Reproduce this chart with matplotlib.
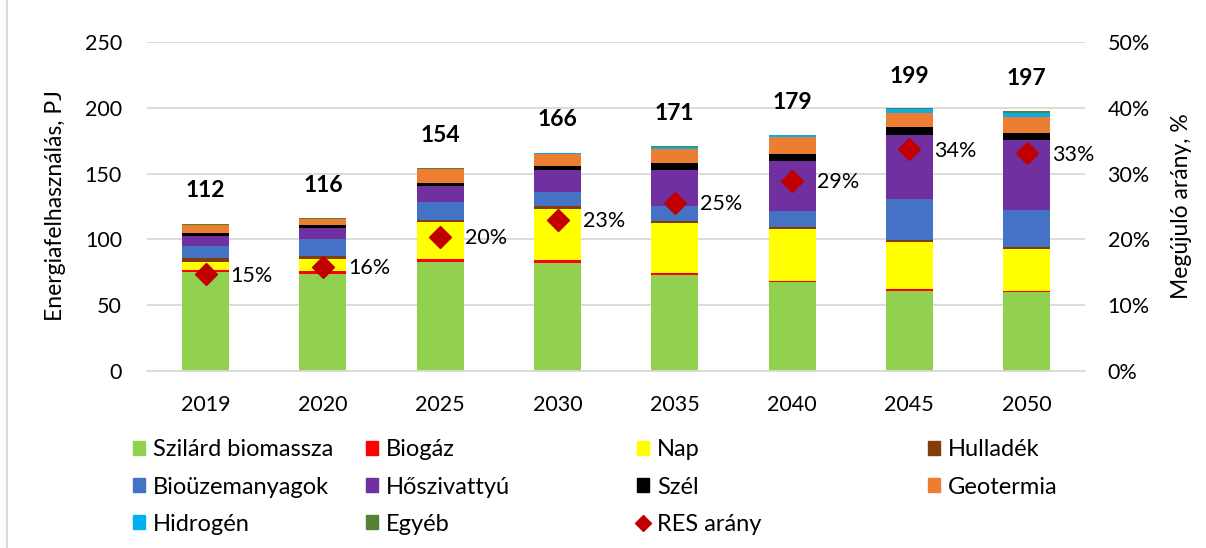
import matplotlib.pyplot as plt
from matplotlib.lines import Line2D
from matplotlib.patches import Patch
import numpy as np

plt.rcParams['font.family'] = ['Lato', 'DejaVu Sans']

years = ['2019', '2020', '2025', '2030', '2035', '2040', '2045', '2050']

szilard = [75.0, 73.7, 83.0, 82.0, 73.2, 67.6, 61.0, 59.8]
biogaz = [1.5, 2.3, 1.9, 2.0, 1.3, 1.0, 1.1, 1.2]
nap = [6.0, 9.0, 28.0, 39.2, 38.0, 39.0, 35.9, 31.9]
hulladek = [3.0, 2.5, 2.2, 2.0, 1.5, 1.7, 1.5, 1.3]
biouzem = [9.5, 12.7, 13.2, 10.8, 11.2, 12.2, 31.2, 28.1]
hoszivattyu = [7.3, 8.4, 12.4, 16.5, 27.3, 38.2, 48.9, 53.2]
szel = [2.6, 2.5, 2.3, 3.0, 5.6, 5.3, 5.6, 5.6]
geotermia = [6.1, 4.3, 10.4, 9.2, 10.4, 12.5, 10.6, 12.2]
hidrogen = [0.0, 0.0, 0.0, 1.0, 2.0, 1.5, 3.0, 3.0]
egyeb = [0.5, 0.8, 0.8, 0.3, 0.3, 0.6, 1.0, 1.0]

totals = [112, 116, 154, 166, 171, 179, 199, 197]
res_share = [14.7, 15.8, 20.4, 23.0, 25.6, 28.9, 33.7, 33.1]
res_labels = ['15%', '16%', '20%', '23%', '25%', '29%', '34%', '33%']

series = [
    ('Szilárd biomassza', szilard, '#92D050'),
    ('Biogáz', biogaz, '#FF0000'),
    ('Nap', nap, '#FFFF00'),
    ('Hulladék', hulladek, '#843C0C'),
    ('Bioüzemanyagok', biouzem, '#4472C4'),
    ('Hőszivattyú', hoszivattyu, '#7030A0'),
    ('Szél', szel, '#000000'),
    ('Geotermia', geotermia, '#ED7D31'),
    ('Hidrogén', hidrogen, '#00B0F0'),
    ('Egyéb', egyeb, '#548235'),
]

fig = plt.figure(figsize=(12.06, 5.48), dpi=100)
ax = fig.add_axes([0.1219, 0.323, 0.778, 0.6004])
x = np.arange(len(years))

bottom = np.zeros(len(years))
for name, vals, col in series:
    ax.bar(x, vals, 0.4, bottom=bottom, color=col, label=name, zorder=2)
    bottom += np.array(vals)

for xi, t in zip(x, totals):
    ax.text(xi, t + 25, str(t), ha='center', va='center', fontsize=16.5, fontweight='bold')

ax.set_xlim(-0.5, len(years) - 0.5)
ax.set_ylim(0, 250)
ax.set_yticks(range(0, 251, 50))
ax.set_xticks(x)
ax.set_xticklabels(years)
ax.grid(axis='y', color='#D9D9D9', linewidth=1.3, zorder=0)
ax.set_axisbelow(True)
for s in ['top', 'right', 'left']:
    ax.spines[s].set_visible(False)
ax.spines['bottom'].set_color('#D9D9D9')
ax.spines['bottom'].set_linewidth(1.3)
ax.tick_params(axis='both', length=0, labelsize=15.5)
ax.tick_params(axis='y', pad=18)
ax.tick_params(axis='x', pad=17)

ax2 = ax.twinx()
ax2.plot(x, res_share, linestyle='none', marker='D', markersize=11, color='#C00000', zorder=3)
for xi, v, lab in zip(x, res_share, res_labels):
    ax2.annotate(lab, (xi, v), xytext=(18, -1), textcoords='offset points',
                 ha='left', va='center', fontsize=15.5)
ax2.set_ylim(0, 50)
ax2.set_yticks(range(0, 51, 10))
ax2.set_yticklabels([f'{v}%' for v in range(0, 51, 10)])
for s in ['top', 'right', 'left', 'bottom']:
    ax2.spines[s].set_visible(False)
ax2.tick_params(axis='y', length=0, labelsize=15.5, pad=16)

# axis titles placed on the figure
fig.text(55 / 1206, 1 - 206 / 548, 'Energiafelhasználás, PJ', rotation=90,
         ha='center', va='center', fontsize=16.5)
fig.text(1181 / 1206, 1 - 206 / 548, 'Megújuló arány, %', rotation=90,
         ha='center', va='center', fontsize=16.5)

# legend, one column at a time so the columns sit where they are in the original
handles = [Patch(color=col, label=name) for name, _, col in series]
handles.append(Line2D([], [], linestyle='none', marker='D', markersize=8,
                      color='#C00000', label='RES arány'))
columns = [[0, 4, 8], [1, 5, 9], [2, 6, 10], [3, 7]]
col_x = [0.1103, 0.3035, 0.528, 0.7695]
for idx, cx in zip(columns, col_x):
    fig.legend(handles=[handles[i] for i in idx], loc='upper left',
               bbox_to_anchor=(cx, 0.198), frameon=False, fontsize=17,
               borderpad=0, borderaxespad=0, handlelength=0.5, handleheight=0.5,
               handletextpad=0.35, labelspacing=0.68)

fig.add_artist(Line2D([0.006, 0.006], [0, 1], color='#D9D9D9', linewidth=1.5))

fig.savefig('out.png', dpi=100)
